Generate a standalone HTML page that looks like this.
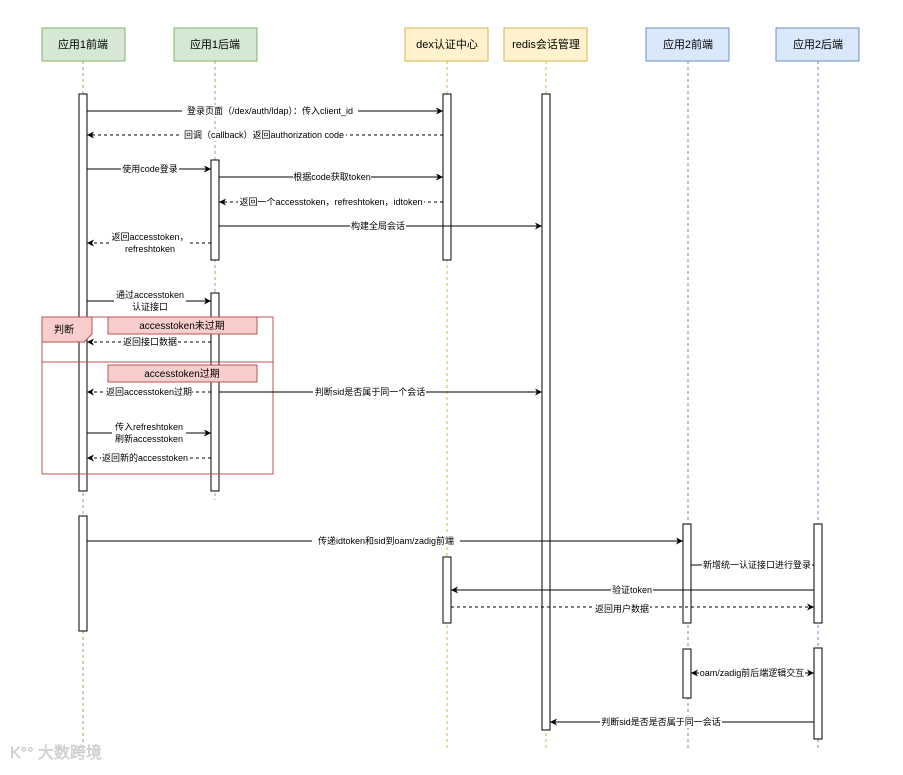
<!DOCTYPE html>
<html><head><meta charset="utf-8"><style>
html,body{margin:0;padding:0;background:#fff;}
svg text{font-family:"Liberation Sans","Noto Sans CJK SC",sans-serif;}
</style></head><body>
<svg width="903" height="770" viewBox="0 0 903 770" xmlns="http://www.w3.org/2000/svg">
<defs>
<marker id="a" markerWidth="8" markerHeight="8" refX="7" refY="4" orient="auto" markerUnits="userSpaceOnUse"><path d="M0,0.5 L7,4 L0,7.5 L2,4 Z" fill="#000"/></marker>
<marker id="b" markerWidth="8" markerHeight="8" refX="1" refY="4" orient="auto" markerUnits="userSpaceOnUse"><path d="M8,0.5 L1,4 L8,7.5 L6,4 Z" fill="#000"/></marker>
</defs>
<rect width="903" height="770" fill="#fff"/>
<g stroke-dasharray="3,3" stroke-width="1">
<line x1="83" y1="61" x2="83" y2="750" stroke="#82b366"/>
<line x1="215" y1="61" x2="215" y2="500" stroke="#82b366"/>
<line x1="447" y1="61" x2="447" y2="750" stroke="#d6b656"/>
<line x1="546" y1="61" x2="546" y2="750" stroke="#d6b656"/>
<line x1="688" y1="61" x2="688" y2="750" stroke="#6c8ebf"/>
<line x1="818" y1="61" x2="818" y2="750" stroke="#6c8ebf"/>
</g>
<g font-size="11" text-anchor="middle">
<rect x="42" y="28" width="83" height="33" fill="#d5e8d4" stroke="#82b366"/><text x="83" y="48">应用1前端</text>
<rect x="174" y="28" width="83" height="33" fill="#d5e8d4" stroke="#82b366"/><text x="215" y="48">应用1后端</text>
<rect x="405" y="28" width="83" height="33" fill="#fff2cc" stroke="#d6b656"/><text x="447" y="48">dex认证中心</text>
<rect x="504" y="28" width="83" height="33" fill="#fff2cc" stroke="#d6b656"/><text x="546" y="48">redis会话管理</text>
<rect x="646" y="28" width="83" height="33" fill="#dae8fc" stroke="#6c8ebf"/><text x="688" y="48">应用2前端</text>
<rect x="776" y="28" width="83" height="33" fill="#dae8fc" stroke="#6c8ebf"/><text x="818" y="48">应用2后端</text>
</g>
<g fill="#fff" stroke="#000" stroke-width="1">
<rect x="79" y="94" width="8" height="397"/>
<rect x="79" y="516" width="8" height="115"/>
<rect x="211" y="160" width="8" height="100"/>
<rect x="211" y="293" width="8" height="198"/>
<rect x="443" y="94" width="8" height="166"/>
<rect x="443" y="557" width="8" height="66"/>
<rect x="542" y="94" width="8" height="636"/>
<rect x="683" y="524" width="8" height="99"/>
<rect x="683" y="649" width="8" height="49"/>
<rect x="814" y="524" width="8" height="99"/>
<rect x="814" y="648" width="8" height="91"/>
</g>
<rect x="42" y="317" width="231" height="157" fill="none" stroke="#b85450"/>
<line x1="42" y1="362" x2="273" y2="362" stroke="#b85450"/>
<path d="M42,317 H92 V334 L84,342 H42 Z" fill="#f8cecc" stroke="#b85450"/>
<text x="64" y="333" font-size="10" text-anchor="middle">判断</text>
<rect x="108" y="317" width="149" height="17" fill="#f8cecc" stroke="#b85450"/>
<text x="182" y="329" font-size="10" text-anchor="middle">accesstoken未过期</text>
<rect x="108" y="365" width="149" height="17" fill="#f8cecc" stroke="#b85450"/>
<text x="182" y="377" font-size="10" text-anchor="middle">accesstoken过期</text>
<g stroke="#000" stroke-width="1" fill="none">
<line x1="87" y1="111" x2="443" y2="111" marker-end="url(#a)"/>
<line x1="443" y1="135" x2="87" y2="135" stroke-dasharray="3,3" marker-end="url(#a)"/>
<line x1="87" y1="169" x2="211" y2="169" marker-end="url(#a)"/>
<line x1="219" y1="177" x2="443" y2="177" marker-end="url(#a)"/>
<line x1="443" y1="202" x2="219" y2="202" stroke-dasharray="3,3" marker-end="url(#a)"/>
<line x1="219" y1="226" x2="542" y2="226" marker-end="url(#a)"/>
<line x1="211" y1="243" x2="87" y2="243" stroke-dasharray="3,3" marker-end="url(#a)"/>
<line x1="87" y1="301" x2="211" y2="301" marker-end="url(#a)"/>
<line x1="211" y1="342" x2="87" y2="342" stroke-dasharray="3,3" marker-end="url(#a)"/>
<line x1="211" y1="392" x2="87" y2="392" stroke-dasharray="3,3" marker-end="url(#a)"/>
<line x1="219" y1="392" x2="542" y2="392" marker-end="url(#a)"/>
<line x1="87" y1="433" x2="211" y2="433" marker-end="url(#a)"/>
<line x1="211" y1="458" x2="87" y2="458" stroke-dasharray="3,3" marker-end="url(#a)"/>
<line x1="87" y1="541" x2="683" y2="541" marker-end="url(#a)"/>
<line x1="691" y1="565" x2="814" y2="565"/>
<line x1="814" y1="590" x2="451" y2="590" marker-end="url(#a)"/>
<line x1="451" y1="607" x2="814" y2="607" stroke-dasharray="3,3" marker-end="url(#a)"/>
<line x1="691" y1="673" x2="814" y2="673" marker-start="url(#b)" marker-end="url(#a)"/>
<line x1="814" y1="722" x2="550" y2="722" marker-end="url(#a)"/>
</g>
<g font-size="9" text-anchor="middle">
<g fill="#fff">
<rect x="182" y="105" width="176" height="12"/>
<rect x="182" y="129" width="164" height="12"/>
<rect x="121" y="163" width="58" height="12"/>
<rect x="293" y="171" width="78" height="12"/>
<rect x="238" y="196" width="186" height="12"/>
<rect x="350" y="220" width="56" height="12"/>
<rect x="110" y="231" width="80" height="24"/>
<rect x="114" y="289" width="72" height="24"/>
<rect x="122" y="336" width="56" height="12"/>
<rect x="106" y="386" width="86" height="12"/>
<rect x="313" y="386" width="113" height="12"/>
<rect x="112" y="421" width="74" height="24"/>
<rect x="101" y="452" width="88" height="12"/>
<rect x="312" y="535" width="148" height="12"/>
<rect x="702" y="559" width="110" height="12"/>
<rect x="611" y="584" width="42" height="12"/>
<rect x="594" y="602" width="56" height="12"/>
<rect x="699" y="667" width="106" height="12"/>
<rect x="600" y="716" width="122" height="12"/>
</g>
<text x="270" y="114">登录页面（/dex/auth/ldap）：传入client_id</text>
<text x="264" y="138">回调（callback）返回authorization code</text>
<text x="150" y="172">使用code登录</text>
<text x="332" y="180">根据code获取token</text>
<text x="331" y="205">返回一个accesstoken，refreshtoken，idtoken</text>
<text x="378" y="229">构建全局会话</text>
<text x="150" y="240">返回accesstoken，</text>
<text x="150" y="252">refreshtoken</text>
<text x="150" y="298">通过accesstoken</text>
<text x="150" y="310">认证接口</text>
<text x="150" y="345">返回接口数据</text>
<text x="149" y="395">返回accesstoken过期</text>
<text x="370" y="395">判断sid是否属于同一个会话</text>
<text x="149" y="430">传入refreshtoken</text>
<text x="149" y="442">刷新accesstoken</text>
<text x="145" y="461">返回新的accesstoken</text>
<text x="386" y="544">传递idtoken和sid到oam/zadig前端</text>
<text x="757" y="568">新增统一认证接口进行登录</text>
<text x="632" y="593">验证token</text>
<text x="622" y="612">返回用户数据</text>
<text x="752" y="676">oam/zadig前后端逻辑交互</text>
<text x="661" y="725">判断sid是否是否属于同一会话</text>
</g>
<text x="10" y="758" font-size="16" fill="#d8d8d8" stroke="#c8c8c8" stroke-width="0.5">K°° 大数跨境</text>
</svg>
</body></html>
